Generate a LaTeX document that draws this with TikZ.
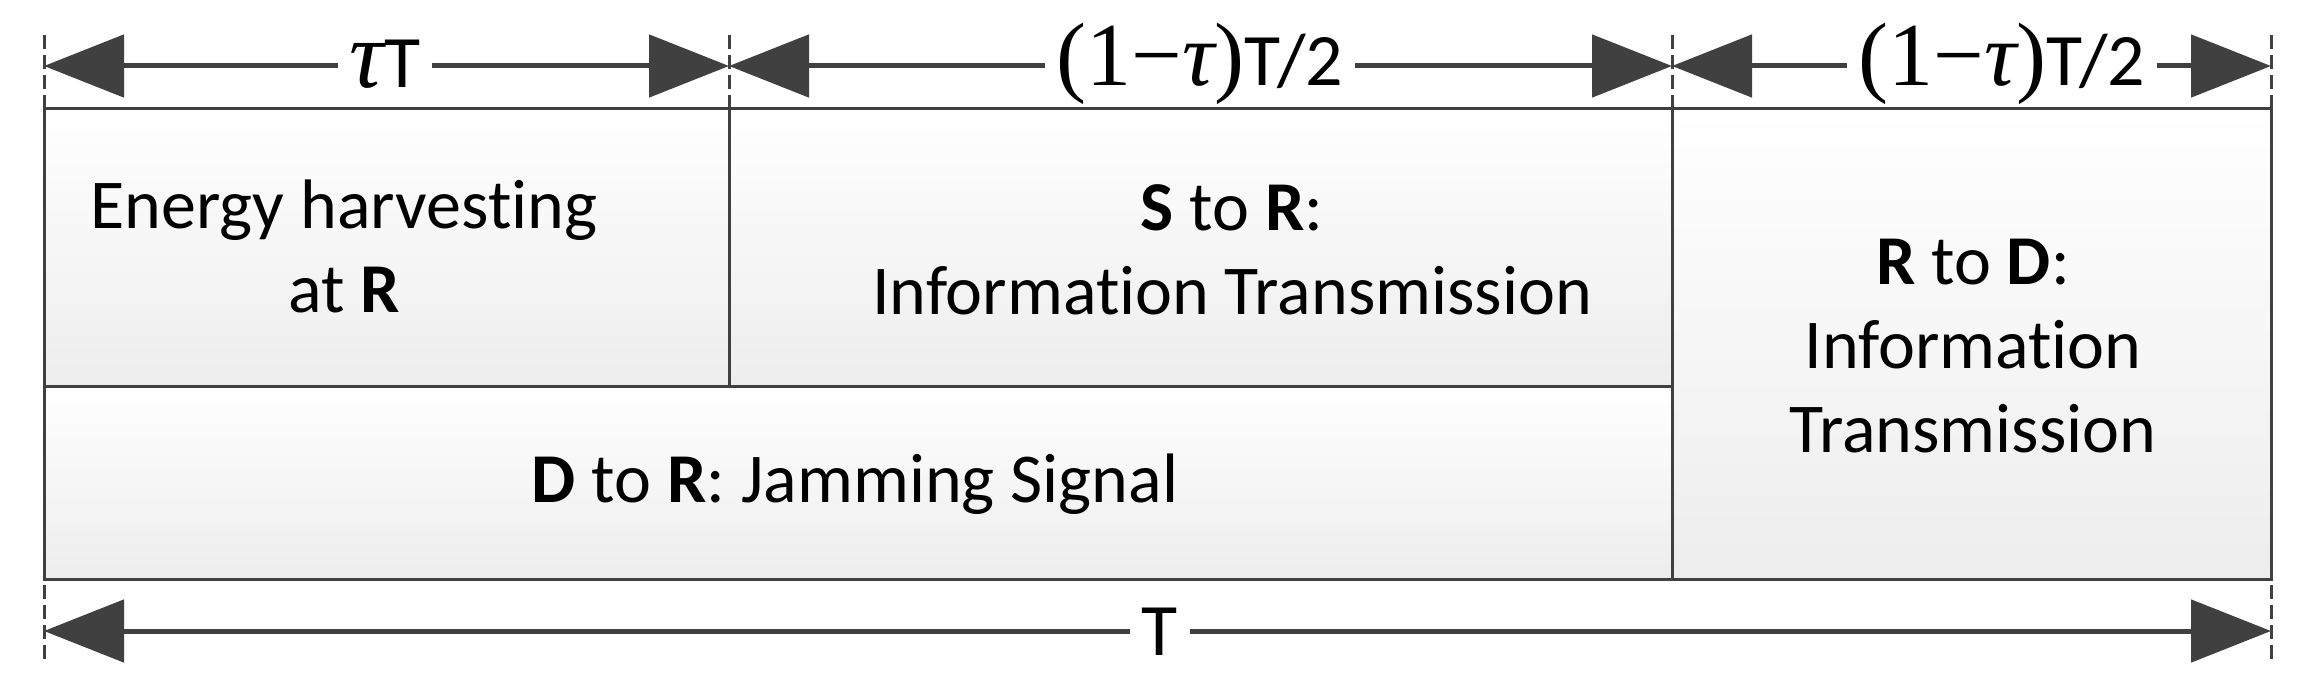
\documentclass[tikz,border=0pt]{standalone}
\usepackage{fontspec}
\setmainfont[Ligatures=NoCommon]{Carlito}
\newfontfamily\tms{Liberation Serif}
\usetikzlibrary{arrows.meta}
\definecolor{ln}{HTML}{404040}
\tikzset{
  box/.style={draw=ln,line width=3pt,top color=white,bottom color=black!7},
  dim/.style={draw=ln,line width=5pt,{Triangle[length=80pt,width=62pt]}-{Triangle[length=80pt,width=62pt]}},
  tick/.style={draw=ln,line width=3pt,dash pattern=on 14pt off 6pt},
  lab/.style={fill=white,inner xsep=12pt,inner ysep=0pt,font=\fontsize{74}{74}\selectfont},
  txt/.style={font=\fontsize{70}{84}\selectfont,align=center,text=black}
}
\begin{document}
\begin{tikzpicture}[x=1pt,y=-1pt]
\useasboundingbox (0,0) rectangle (2300,693);
\fill[white] (0,0) rectangle (2300,693);
% boxes
\path[box] (44,108) rectangle (729,386);
\path[box] (729,108) rectangle (1672,386);
\path[box] (44,386) rectangle (1672,579);
\path[box] (1672,108) rectangle (2271,579);
% ticks
\foreach \x/\n in {44/a,729/b,1672/c,2271/d}{
  \coordinate (t\n) at (\x,66);
  \draw[tick] (\x,35) -- (\x,108);
}
\coordinate (ba) at (44,631);
\coordinate (bd) at (2271,631);
\draw[tick] (44,585) -- (44,660);
\draw[tick] (2271,585) -- (2271,660);
% dimension arrows
\draw[dim] (ta) -- (tb);
\draw[dim] (tb) -- (tc);
\draw[dim] (tc) -- (td);
\draw[dim] (ba) -- (bd);
\node[lab] (l1) at (385,64) {{\tms\fontsize{96}{96}\selectfont\itshape τ}T};
\node[lab] (l2) at (1200,64) {{\tms\fontsize{90}{90}\selectfont(1−{\itshape τ})}T/2};
\node[lab] (l3) at (2002,64) {{\tms\fontsize{90}{90}\selectfont(1−{\itshape τ})}T/2};
\node[lab] (l4) at (1160,632) {T};
% texts
\node[txt] (e) at (344,246) {Energy harvesting\\at \textbf{R}};
\node[txt] (s) at (1232,250) {\textbf{S} to \textbf{R}:\\Information Transmission};
\node[txt] (r) at (1973,346) {\textbf{R} to \textbf{D}:\\Information\\Transmission};
\node[txt] (d) at (855,484) {\textbf{D} to \textbf{R}: Jamming Signal};
\end{tikzpicture}
\end{document}
